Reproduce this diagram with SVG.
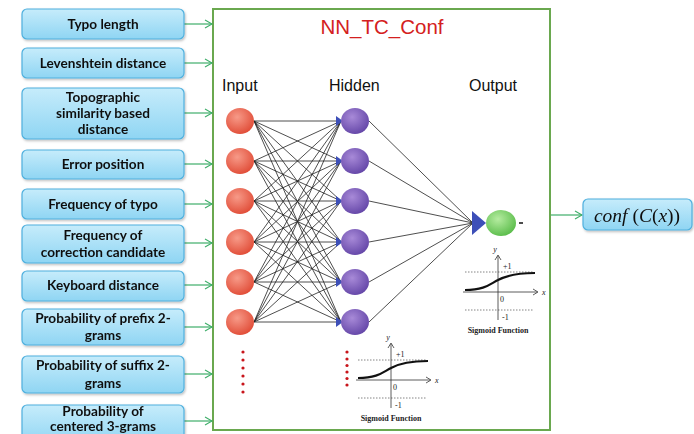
<svg xmlns="http://www.w3.org/2000/svg" width="694" height="434" viewBox="0 0 694 434">
<style>
.box{fill:url(#boxg);stroke:#4fb0de;stroke-width:1.2}
.bt{font-family:Lato,"Liberation Sans",sans-serif;font-weight:bold;font-size:13.6px;fill:#111;text-anchor:middle}
.arr{stroke:#3fae6a;stroke-width:1.2;fill:none;marker-end:url(#open)}
.edge{stroke:#222;stroke-width:0.8;fill:none}
.lab{font-family:"Liberation Sans",Arial,sans-serif;font-size:16px;fill:#111}
.inp{fill:url(#redg)}
.hid{fill:url(#purg)}
.dot{fill:#c8151b}
.sg{font-family:"Liberation Serif",serif;font-size:8px;fill:#222}
.ax{stroke:#333;stroke-width:0.8;fill:none}
.dl{stroke:#666;stroke-width:0.8;stroke-dasharray:1.5 1.5;fill:none}
</style>
<defs>
<linearGradient id="boxg" x1="0" y1="0" x2="0" y2="1">
<stop offset="0" stop-color="#c6ecfb"/>
<stop offset="1" stop-color="#8fd5f3"/>
</linearGradient>
<radialGradient id="redg" cx="0.4" cy="0.35" r="0.7">
<stop offset="0" stop-color="#f79a88"/>
<stop offset="1" stop-color="#e04a35"/>
</radialGradient>
<radialGradient id="purg" cx="0.4" cy="0.35" r="0.7">
<stop offset="0" stop-color="#a88ad8"/>
<stop offset="1" stop-color="#6244a6"/>
</radialGradient>
<radialGradient id="greg" cx="0.4" cy="0.35" r="0.7">
<stop offset="0" stop-color="#b5eca0"/>
<stop offset="1" stop-color="#58bb48"/>
</radialGradient>
<marker id="open" markerWidth="10" markerHeight="10" refX="8" refY="5" orient="auto" markerUnits="userSpaceOnUse">
<path d="M1,1 L8,5 L1,9" fill="none" stroke="#3fae6a" stroke-width="1.1"/>
</marker>
<filter id="sh" x="-5%" y="-10%" width="110%" height="130%">
<feDropShadow dx="1" dy="1.5" stdDeviation="1" flood-color="#000" flood-opacity="0.25"/>
</filter>
<g id="sig">
<path class="dl" d="M0,-20 H68"/>
<path class="dl" d="M0,18 H68"/>
<path class="ax" d="M-2,0 H72"/>
<path class="ax" d="M68,-3 L73,0 L68,3"/>
<path class="ax" d="M33,-36 V28"/>
<path class="ax" d="M30,-32 L33,-37 L36,-32"/>
<path d="M0,-2 C20,-2 25,-8 33,-12 C42,-17 55,-19 70,-19" stroke="#111" stroke-width="2.2" fill="none"/>
<text class="sg" x="30" y="-40" font-style="italic" text-anchor="middle">y</text>
<text class="sg" x="38" y="-23">+1</text>
<text class="sg" x="35" y="10">0</text>
<text class="sg" x="37" y="28">-1</text>
<text class="sg" x="77" y="3" font-style="italic">x</text>
<text class="sg" x="33" y="41" text-anchor="middle" font-weight="bold" font-size="7.5">Sigmoid Function</text>
</g>
</defs>
<rect width="694" height="434" fill="#fff"/>

<g id="main-box">
<rect x="213" y="9" width="337" height="421" fill="#fff" stroke="#6aa84f" stroke-width="2"/>
<text x="382" y="34" font-family="'Liberation Sans',Arial,sans-serif" font-size="20.5" fill="#d42020" text-anchor="middle">NN_TC_Conf</text>
<text class="lab" x="222" y="91">Input</text>
<text class="lab" x="329" y="91">Hidden</text>
<text class="lab" x="469" y="91">Output</text>
</g>

<g id="connectors">
<path class="arr" d="M184,24 H212"/>
<path class="arr" d="M184,63 H212"/>
<path class="arr" d="M184,113 H212"/>
<path class="arr" d="M184,164 H212"/>
<path class="arr" d="M184,204 H212"/>
<path class="arr" d="M184,243 H212"/>
<path class="arr" d="M184,285 H212"/>
<path class="arr" d="M184,327 H212"/>
<path class="arr" d="M184,374 H212"/>
<path class="arr" d="M184,421 H212"/>
<path class="arr" d="M551,215 H582"/>
<g class="edge">
<path d="M254,121 L341,121 M254,121 L341,161 M254,121 L341,201 M254,121 L341,242 M254,121 L341,282 M254,121 L341,322"/>
<path d="M254,161 L341,121 M254,161 L341,161 M254,161 L341,201 M254,161 L341,242 M254,161 L341,282 M254,161 L341,322"/>
<path d="M254,201 L341,121 M254,201 L341,161 M254,201 L341,201 M254,201 L341,242 M254,201 L341,282 M254,201 L341,322"/>
<path d="M254,242 L341,121 M254,242 L341,161 M254,242 L341,201 M254,242 L341,242 M254,242 L341,282 M254,242 L341,322"/>
<path d="M254,282 L341,121 M254,282 L341,161 M254,282 L341,201 M254,282 L341,242 M254,282 L341,282 M254,282 L341,322"/>
<path d="M254,322 L341,121 M254,322 L341,161 M254,322 L341,201 M254,322 L341,242 M254,322 L341,282 M254,322 L341,322"/>
<path d="M369,121 L473,223 M369,161 L473,223 M369,201 L473,223 M369,242 L473,223 M369,282 L473,223 M369,322 L473,223"/>
</g>
<g fill="#3d4fb8">
<path d="M336,116 L343,121 L336,126 Z"/>
<path d="M336,156 L343,161 L336,166 Z"/>
<path d="M336,196 L343,201 L336,206 Z"/>
<path d="M336,237 L343,242 L336,247 Z"/>
<path d="M336,277 L343,282 L336,287 Z"/>
<path d="M336,317 L343,322 L336,327 Z"/>
</g>
</g>

<g id="input-layer">
<ellipse class="inp" cx="240" cy="121" rx="14" ry="13"/>
<ellipse class="inp" cx="240" cy="161" rx="14" ry="13"/>
<ellipse class="inp" cx="240" cy="201" rx="14" ry="13"/>
<ellipse class="inp" cx="240" cy="242" rx="14" ry="13"/>
<ellipse class="inp" cx="240" cy="282" rx="14" ry="13"/>
<ellipse class="inp" cx="240" cy="322" rx="14" ry="13"/>
<g class="dot">
<circle cx="243" cy="352" r="1.6"/><circle cx="243" cy="360" r="1.6"/><circle cx="243" cy="368" r="1.6"/>
<circle cx="243" cy="376" r="1.6"/><circle cx="243" cy="384" r="1.6"/><circle cx="243" cy="392" r="1.6"/>
</g>
</g>

<g id="hidden-layer">
<ellipse class="hid" cx="355" cy="121" rx="14" ry="13"/>
<ellipse class="hid" cx="355" cy="161" rx="14" ry="13"/>
<ellipse class="hid" cx="355" cy="201" rx="14" ry="13"/>
<ellipse class="hid" cx="355" cy="242" rx="14" ry="13"/>
<ellipse class="hid" cx="355" cy="282" rx="14" ry="13"/>
<ellipse class="hid" cx="355" cy="322" rx="14" ry="13"/>
<g class="dot">
<circle cx="347" cy="352" r="1.6"/><circle cx="347" cy="359" r="1.6"/><circle cx="347" cy="365.5" r="1.6"/>
<circle cx="347" cy="372" r="1.6"/><circle cx="347" cy="378.5" r="1.6"/><circle cx="347" cy="385" r="1.6"/>
</g>
<use href="#sig" x="358" y="380"/>
</g>

<g id="output-layer">
<path d="M472,211 L486,223 L472,235 Z" fill="#3d4fb8"/>
<ellipse cx="501" cy="223" rx="15" ry="13" fill="url(#greg)"/>
<path d="M519,223 H523" stroke="#111" stroke-width="1.5"/>
<use href="#sig" x="465" y="292"/>
</g>

<g id="features" filter="url(#sh)">
<g id="f1"><rect class="box" x="22" y="9" width="162" height="30" rx="5"/><text class="bt" x="103" y="29">Typo length</text></g>
<g id="f2"><rect class="box" x="22" y="48" width="162" height="30" rx="5"/><text class="bt" x="103" y="68">Levenshtein distance</text></g>
<g id="f3"><rect class="box" x="22" y="88" width="162" height="51" rx="5"/><text class="bt" x="103" y="102">Topographic</text><text class="bt" x="103" y="118">similarity based</text><text class="bt" x="103" y="134">distance</text></g>
<g id="f4"><rect class="box" x="22" y="150" width="162" height="29" rx="5"/><text class="bt" x="103" y="169">Error position</text></g>
<g id="f5"><rect class="box" x="22" y="189" width="162" height="30" rx="5"/><text class="bt" x="103" y="209">Frequency of typo</text></g>
<g id="f6"><rect class="box" x="22" y="225" width="162" height="38" rx="5"/><text class="bt" x="103" y="240">Frequency of</text><text class="bt" x="103" y="257">correction candidate</text></g>
<g id="f7"><rect class="box" x="22" y="271" width="162" height="30" rx="5"/><text class="bt" x="103" y="290">Keyboard distance</text></g>
<g id="f8"><rect class="box" x="22" y="309" width="162" height="36" rx="5"/><text class="bt" x="103" y="323">Probability of prefix 2-</text><text class="bt" x="103" y="340">grams</text></g>
<g id="f9"><rect class="box" x="22" y="356" width="162" height="37" rx="5"/><text class="bt" x="103" y="370">Probability of suffix 2-</text><text class="bt" x="103" y="388">grams</text></g>
<g id="f10"><rect class="box" x="22" y="405" width="162" height="40" rx="5"/><text class="bt" x="103" y="416" font-size="13px">Probability of</text><text class="bt" x="103" y="430.5" font-size="13px">centered 3-grams</text></g>
</g>

<g id="result" filter="url(#sh)">
<rect class="box" x="583" y="199" width="109" height="31" rx="5"/>
<text x="637" y="221.5" font-family="'Liberation Serif','Times New Roman',serif" font-size="19.5" fill="#111" text-anchor="middle"><tspan font-style="italic">conf</tspan> (<tspan font-style="italic">C</tspan>(<tspan font-style="italic">x</tspan>))</text>
</g>
</svg>
